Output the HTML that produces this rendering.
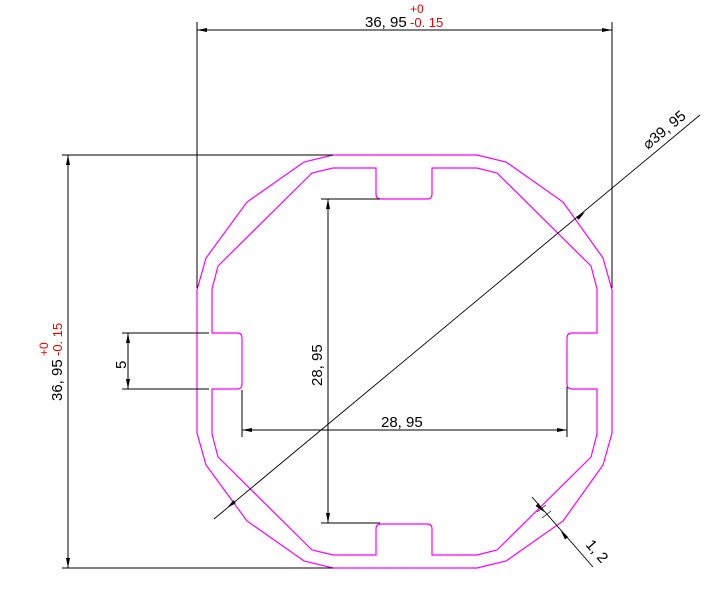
<!DOCTYPE html>
<html><head><meta charset="utf-8"><style>
html,body{margin:0;padding:0;background:#fff;}
svg{display:block;}
text{font-family:"Liberation Sans",sans-serif;}
</style></head><body>
<svg width="714" height="606" viewBox="0 0 714 606" xmlns="http://www.w3.org/2000/svg">
<defs>
<marker id="a" viewBox="0 0 10 4" refX="10" refY="2" markerWidth="10" markerHeight="4" markerUnits="userSpaceOnUse" orient="auto-start-reverse"><path d="M10,2 L0,0 L0,4 Z" fill="#000"/></marker>
</defs>
<g fill="none" stroke="#ff00ff" stroke-width="1.2">
<path d="M333,155 L477,155 L506,162 L563,202 L603,258 L612,290 L612,433 L603,465 L563,521 L506,561 L477,568 L333,568 L304,561 L247,521 L206,465 L197,433 L197,290 L206,258 L247,202 L304,162 Z"/>
<path d="M333,168 L376,168 L376,194 Q376,199 381,199 L427,199 Q432,199 432,194 L432,168 L477,168 L497,173 L591,266 L597,289 L597,333 L572,333 Q567,333 567,338 L567,384 Q567,389 572,389 L597,389 L597,434 L591,457 L497,550 L477,555 L432,555 L432,529 Q432,524 427,524 L381,524 Q376,524 376,529 L376,555 L333,555 L312,550 L218,457 L212,434 L212,389 L237,389 Q242,389 242,384 L242,338 Q242,333 237,333 L212,333 L212,289 L218,266 L312,173 Z"/>
</g>
<g stroke="#000" stroke-width="1" fill="none">
<line x1="197" y1="22" x2="197" y2="288"/>
<line x1="612" y1="22" x2="612" y2="288"/>
<line x1="197" y1="30" x2="612" y2="30" marker-start="url(#a)" marker-end="url(#a)"/>
<line x1="62" y1="155" x2="333" y2="155"/>
<line x1="62" y1="568" x2="333" y2="568"/>
<line x1="68" y1="155" x2="68" y2="568" marker-start="url(#a)" marker-end="url(#a)"/>
<line x1="122" y1="333" x2="209" y2="333"/>
<line x1="122" y1="389" x2="209" y2="389"/>
<line x1="128" y1="333" x2="128" y2="389" marker-start="url(#a)" marker-end="url(#a)"/>
<line x1="321" y1="199" x2="380" y2="199"/>
<line x1="321" y1="523" x2="380" y2="523"/>
<line x1="328" y1="199" x2="328" y2="523" marker-start="url(#a)" marker-end="url(#a)"/>
<line x1="242" y1="390" x2="242" y2="437"/>
<line x1="567" y1="387" x2="567" y2="437"/>
<line x1="242" y1="430" x2="567" y2="430" marker-start="url(#a)" marker-end="url(#a)"/>
<line x1="214" y1="519" x2="700" y2="115" stroke-width="0.9"/>
<line x1="227" y1="508" x2="585" y2="212" stroke="none" marker-start="url(#a)" marker-end="url(#a)"/>
<line x1="532" y1="497" x2="593" y2="567" stroke-width="0.9"/>
<path d="M537,512 L546,505 M542,518 L551,511" stroke-width="0.7"/>
</g>
<path d="M544,512 L535.5,506 L538.5,503 Z M560,529 L565,539.5 L568,537 Z" fill="#000"/>
<g font-size="15" fill="#000">
<text x="365" y="27">36, 95</text>
<text x="410" y="13" fill="#e00" font-size="12">+0</text>
<text x="410" y="27" fill="#e00" font-size="13">-0. 15</text>
<g transform="translate(62,401) rotate(-90)">
<text x="0" y="0">36, 95</text>
<text x="45" y="-14" fill="#e00" font-size="12">+0</text>
<text x="45" y="0" fill="#e00" font-size="13">-0. 15</text>
</g>
<text transform="translate(126,369) rotate(-90)">5</text>
<text transform="translate(322,386) rotate(-90)">28, 95</text>
<text x="381" y="427">28, 95</text>
<text transform="translate(648,150) rotate(-40)">⌀39, 95</text>
<text transform="translate(585,545) rotate(49)">1, 2</text>
</g>
</svg>
</body></html>
